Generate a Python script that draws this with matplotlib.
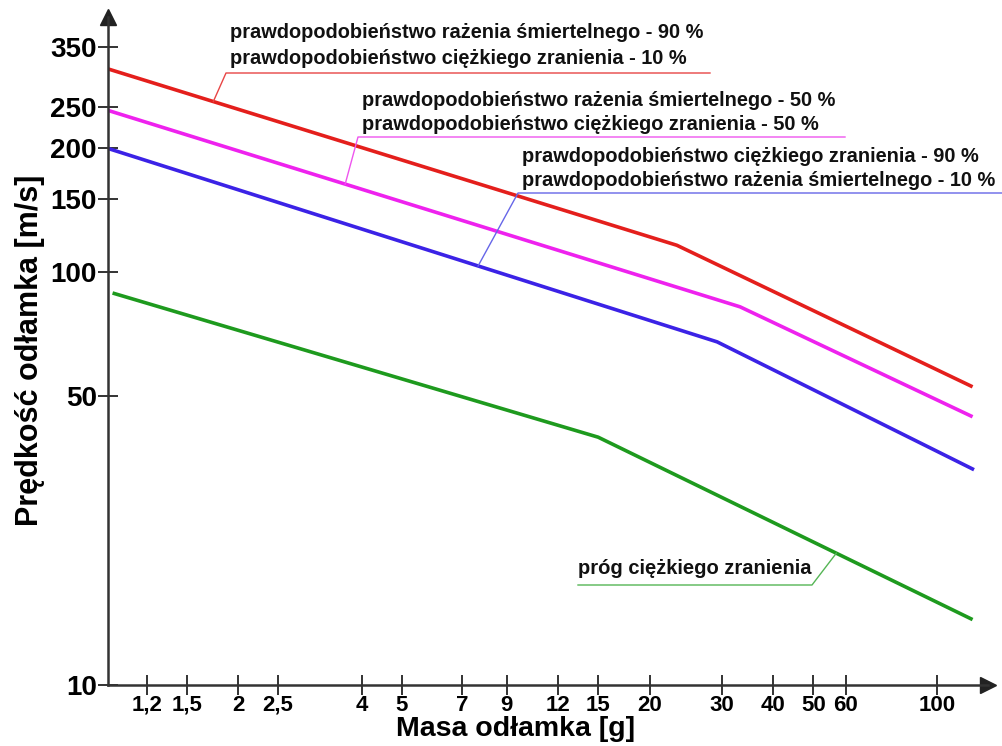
import numpy as np
import matplotlib.pyplot as plt
from matplotlib.lines import Line2D

# masa odłamka [g] i prędkość [m/s] - punkty załamania krzywych
masa_90 = [0.965, 23.3, 122]
pred_90 = [310, 116, 52.7]

masa_50 = [0.965, 33.2, 122]
pred_50 = [246, 82.3, 44.6]

masa_10 = [0.965, 29.2, 123]
pred_10 = [199, 67.7, 33.2]

masa_prog = [0.99, 15.0, 122]
pred_prog = [88.9, 39.8, 14.4]

x_ticks = [1.2, 1.5, 2, 2.5, 4, 5, 7, 9, 12, 15, 20, 30, 40, 50, 60, 100]
x_labels = ['1,2', '1,5', '2', '2,5', '4', '5', '7', '9', '12', '15', '20',
            '30', '40', '50', '60', '100']
y_ticks = [10, 50, 100, 150, 200, 250, 350]
y_labels = ['10', '50', '100', '150', '200', '250', '350']

opis_90 = ['prawdopodobieństwo rażenia śmiertelnego - 90 %',
           'prawdopodobieństwo ciężkiego zranienia - 10 %']
opis_50 = ['prawdopodobieństwo rażenia śmiertelnego - 50 %',
           'prawdopodobieństwo ciężkiego zranienia - 50 %']
opis_10 = ['prawdopodobieństwo ciężkiego zranienia - 90 %',
           'prawdopodobieństwo rażenia śmiertelnego - 10 %']
opis_prog = 'próg ciężkiego zranienia'

FONT = ['Liberation Sans', 'DejaVu Sans']

W, H = 1003, 746
fig = plt.figure(figsize=(W / 100, H / 100), dpi=100)
ax = fig.add_axes([108 / W, (H - 685) / H, (988 - 108) / W, (685 - 17) / H])

ax.set_xscale('log')
ax.set_yscale('log')
ax.set_xlim(0.965, 133)
ax.set_ylim(10, 414)

kolory = {'90': '#e41f1c', '50': '#ee22ee', '10': '#3b22e6', 'prog': '#1e9a1e'}
ax.plot(masa_90, pred_90, color=kolory['90'], lw=2.6, solid_capstyle='butt')
ax.plot(masa_50, pred_50, color=kolory['50'], lw=2.6, solid_capstyle='butt')
ax.plot(masa_10, pred_10, color=kolory['10'], lw=2.6, solid_capstyle='butt')
ax.plot(masa_prog, pred_prog, color=kolory['prog'], lw=2.6, solid_capstyle='butt')

# osie ze strzałkami
for s in ['top', 'right']:
    ax.spines[s].set_visible(False)
for s in ['left', 'bottom']:
    ax.spines[s].set_color('#333333')
    ax.spines[s].set_linewidth(1.8)
ax.plot(1, 0, marker='>', color='#222222', ms=11, transform=ax.transAxes, clip_on=False)
ax.plot(0, 1, marker='^', color='#222222', ms=11, transform=ax.transAxes, clip_on=False)

ax.xaxis.set_minor_locator(plt.NullLocator())
ax.yaxis.set_minor_locator(plt.NullLocator())
ax.set_xticks(x_ticks)
ax.set_xticklabels(x_labels, fontfamily=FONT, fontweight='bold', fontsize=16)
ax.set_yticks(y_ticks)
ax.set_yticklabels(y_labels, fontfamily=FONT, fontweight='bold', fontsize=20)
ax.tick_params(axis='both', direction='inout', length=14, width=1.4, color='#333333')
ax.tick_params(axis='x', pad=0)
ax.tick_params(axis='y', pad=1)

fig.text(516 / W, 1 - 736 / H, 'Masa odłamka [g]', ha='center', va='baseline',
         fontfamily=FONT, fontweight='bold', fontsize=20.5)
fig.text(30 / W, 1 - 350 / H, 'Prędkość odłamka [m/s]', ha='center', va='center',
         rotation=90, fontfamily=FONT, fontweight='bold', fontsize=22)


def punkt(masy, pred, m):
    # punkt na krzywej (interpolacja w skali log-log), w pikselach
    lm = np.log10(masy)
    lv = np.log10(pred)
    v = 10 ** np.interp(np.log10(m), lm, lv)
    return ax.transData.transform((m, v))


def opis(linie, x_txt, y_lin, y_pod, x_pod_end, masy, pred, m, kolor):
    for i, t in enumerate(linie):
        fig.text(x_txt / W, 1 - y_lin[i] / H, t, ha='left', va='center',
                 fontfamily=FONT, fontweight='bold', fontsize=14.4, color='#111111')
    px, py = punkt(masy, pred, m)
    xs = [x_pod_end, x_txt - 4, px]
    ys = [H - y_pod, H - y_pod, py]
    fig.add_artist(Line2D(xs, ys, transform=None, color=kolor, lw=1.0))


fig.canvas.draw()
opis(opis_90, 230, [33, 58], 73, 710, masa_90, pred_90, 1.74, '#e84545')
opis(opis_50, 362, [101, 125], 137, 845, masa_50, pred_50, 3.64, '#ee55ee')
opis(opis_10, 522, [156, 180], 193, 1003, masa_10, pred_10, 7.66, '#6666e8')

# próg ciężkiego zranienia - podpis pod krzywą
fig.text(578 / W, 1 - 568 / H, opis_prog, ha='left', va='center',
         fontfamily=FONT, fontweight='bold', fontsize=14.5, color='#111111')
px, py = punkt(masa_prog, pred_prog, 56.9)
fig.add_artist(Line2D([578, 812, px], [H - 585, H - 585, py], transform=None,
                      color='#55b555', lw=1.0))

fig.savefig('out.png', dpi=100, facecolor='white')
